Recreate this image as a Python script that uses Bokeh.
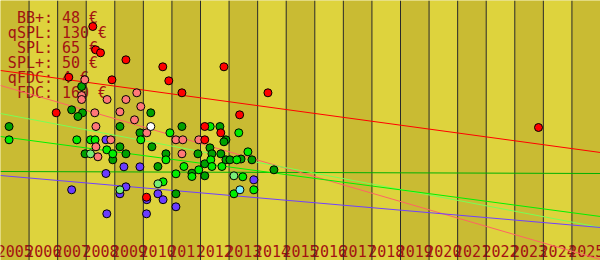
from bokeh.plotting import figure
from bokeh.models import Range1d
from bokeh.core.properties import value
from bokeh.embed import file_html
from bokeh.resources import INLINE

# ---- data ----
years = list(range(2005, 2026))
year_labels = [str(y) for y in years]

legend_names = ["BB+:", "qSPL:", "SPL:", "SPL+:", "qFDC:", "FDC:"]
legend_values = ["48 €", "130 €", "65 €", "50 €", "4 €", "160 €"]

red_x = [2008.23, 2008.33, 2008.50, 2009.39, 2010.68, 2012.82, 2007.39, 2008.90, 2010.89,
         2011.35, 2014.36, 2006.95, 2013.37, 2012.15, 2012.71, 2012.15, 2010.11, 2023.83]
red_y = [234.0, 210.7, 207.7, 200.7, 193.7, 193.7, 183.3, 180.7, 179.7,
         167.7, 167.7, 147.7, 145.7, 134.0, 127.7, 120.7, 63.3, 133.0]

salmon_x = [2007.95, 2009.77, 2007.84, 2007.84, 2008.73, 2009.39, 2009.91, 2008.30, 2009.18,
            2009.69, 2008.34, 2010.12, 2008.86, 2011.14, 2011.38, 2011.94, 2008.34, 2011.35, 2008.41]
salmon_y = [180.7, 167.7, 165.0, 161.0, 161.0, 161.0, 154.0, 147.7, 148.7,
            140.7, 134.0, 127.7, 120.7, 120.7, 120.7, 120.7, 113.7, 106.7, 103.7]

dgreen_x = [2007.84, 2007.49, 2007.87, 2007.71, 2010.26, 2005.30, 2009.18, 2011.35, 2012.68,
            2009.88, 2012.89, 2012.82, 2009.18, 2010.30, 2012.33, 2007.96, 2009.39, 2010.79,
            2011.91, 2012.40, 2012.71, 2008.93, 2012.89, 2013.03, 2013.42, 2013.80, 2012.15,
            2010.51, 2014.57, 2011.70, 2012.15, 2011.14]
dgreen_y = [174.0, 150.7, 147.7, 144.0, 147.7, 134.0, 134.0, 134.0, 134.0,
            127.7, 120.7, 118.7, 113.7, 113.7, 112.7, 106.7, 106.7, 106.7,
            106.7, 106.7, 106.7, 100.7, 100.7, 100.7, 101.5, 100.7, 96.7,
            94.0, 90.7, 87.3, 84.7, 66.7]

bgreen_x = [2005.30, 2007.67, 2008.15, 2008.31, 2009.91, 2010.93, 2012.34, 2013.34, 2008.72,
            2008.93, 2010.79, 2012.36, 2013.66, 2013.27, 2011.42, 2012.40, 2012.75, 2011.94,
            2011.14, 2011.70, 2013.48, 2010.69, 2013.87, 2013.17]
bgreen_y = [120.7, 120.7, 120.7, 120.7, 120.7, 127.7, 134.0, 127.7, 110.7,
            106.7, 100.7, 100.7, 108.7, 100.7, 94.0, 94.0, 94.0, 90.7,
            86.7, 84.0, 83.7, 78.7, 70.7, 66.7]

lgreen_x = [2008.15, 2013.17, 2010.51, 2009.18]
lgreen_y = [106.7, 84.7, 76.7, 70.7]

purple_x = [2008.69, 2009.32, 2009.88, 2008.69, 2013.87, 2009.39, 2007.49, 2009.18, 2010.51,
            2010.12, 2010.69, 2011.14, 2008.72, 2010.11]
purple_y = [120.7, 93.7, 93.7, 87.0, 80.7, 73.7, 70.7, 66.7, 66.7,
            60.8, 60.8, 53.7, 46.7, 46.7]

cyan_x = [2013.38]
cyan_y = [70.7]
white_x = [2010.26]
white_y = [134.0]

# trend lines (value at 2005 and at 2026)
trend_x = [2005, 2026]
trend_red = [190, 108]
trend_salmon = [175, 1]
trend_lgreen = [147, 33]
trend_bgreen = [124, 44]
trend_dgreen = [89, 87]
trend_purple = [85, 33]

# ---- figure ----
W, H = 600, 260
p = figure(width=W, height=H, output_backend="svg", toolbar_location=None,
           x_range=Range1d(2005, 2026), y_range=Range1d(0, 260),
           x_axis_location=None, y_axis_location=None, min_border=0)
p.outline_line_color = None
p.grid.visible = False
p.background_fill_color = "#d6ca38"
p.border_fill_color = "#d6ca38"

def px2x(px):
    return 2005 + px * 21 / W

def py2y(py):
    return 260 - py

# bands
band_colors = ["#c9bb33" if i % 2 == 0 else "#ded33d" for i in range(len(years))]
p.quad(left=years, right=[y + 1 for y in years], bottom=0, top=260,
       fill_color=band_colors, line_color=None)

TXT = "#a31212"
FONT = value("DejaVu Sans Mono")

# tick labels
p.text(x=[y + 0.5 for y in years], y=[py2y(250)] * len(years), text=year_labels,
       text_align="center", text_baseline="alphabetic", text_font=FONT,
       text_font_size="15px", text_color=TXT)

# legend text
base = [17.3 + 15 * i for i in range(len(legend_names))]
p.text(x=[px2x(52.5)] * len(legend_names), y=[py2y(b) for b in base], text=legend_names,
       text_align="right", text_baseline="alphabetic", text_font=FONT,
       text_font_size="15px", text_color=TXT)
p.text(x=[px2x(61.5)] * len(legend_values), y=[py2y(b) for b in base], text=legend_values,
       text_align="left", text_baseline="alphabetic", text_font=FONT,
       text_font_size="15px", text_color=TXT)

# vertical separators
p.segment(x0=years[1:], y0=0, x1=years[1:], y1=260, line_color="#2a2a2a", line_width=1)

# trend lines
p.line(trend_x, trend_dgreen, line_color="#00b000", line_width=1)
p.line(trend_x, trend_red, line_color="#ff0000", line_width=1)
p.line(trend_x, trend_salmon, line_color="#ff6464", line_width=1)
p.line(trend_x, trend_lgreen, line_color="#77ff55", line_width=1)
p.line(trend_x, trend_bgreen, line_color="#00f000", line_width=1)
p.line(trend_x, trend_purple, line_color="#7040ff", line_width=1)

# points
def pts(xs, ys, color):
    p.scatter(xs, ys, size=8, fill_color=color, line_color="#000000", line_width=1)

pts(purple_x, purple_y, "#6a3cff")
pts(dgreen_x, dgreen_y, "#00a000")
pts(bgreen_x, bgreen_y, "#00ee00")
pts(lgreen_x, lgreen_y, "#77ee77")
pts(salmon_x, salmon_y, "#ff7878")
pts(red_x, red_y, "#ff0000")
pts(cyan_x, cyan_y, "#77eeff")
pts(white_x, white_y, "#ffffff")

open("out.html", "w").write(file_html(p, INLINE))
